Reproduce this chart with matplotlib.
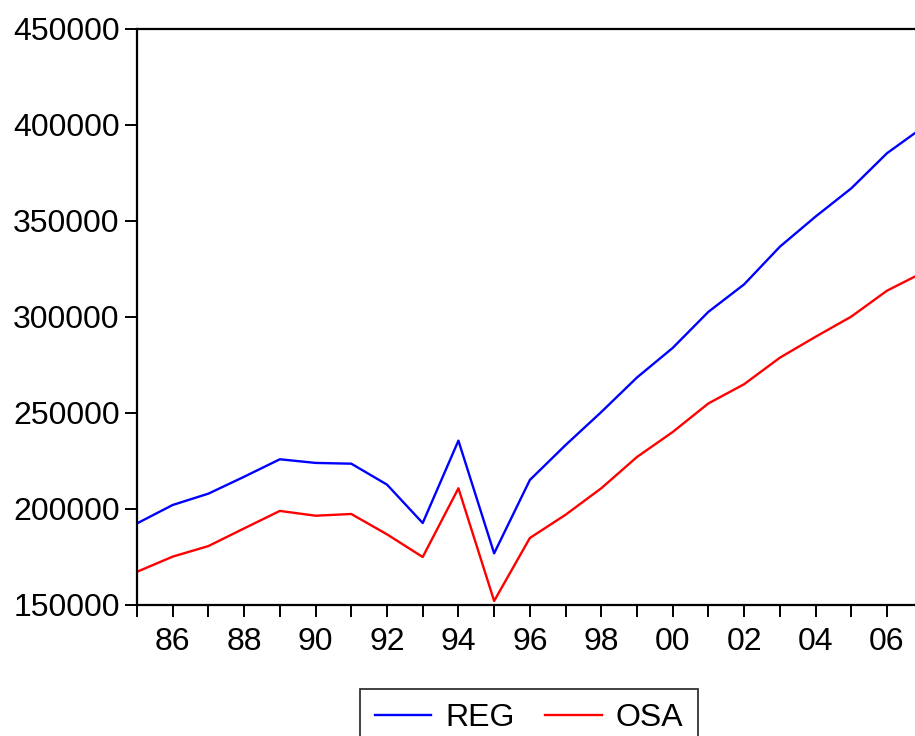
import matplotlib
matplotlib.use("Agg")
import matplotlib.pyplot as plt
from matplotlib.ticker import FixedLocator, FuncFormatter

years = list(range(1985, 2008))
reg = [192500, 202100, 208000, 216800, 225900, 224000, 223600, 212700, 192700,
       235600, 176900, 215100, 233300, 250500, 268500, 283900, 302700, 317000,
       336600, 352300, 367000, 385300, 398700]
osa = [167300, 175200, 180700, 189900, 199000, 196500, 197400, 186800, 175000,
       210800, 152100, 184900, 197000, 210800, 227100, 240100, 255000, 265000,
       278800, 289700, 300200, 313700, 323100]
series_names = ["REG", "OSA"]
yticks = [150000, 200000, 250000, 300000, 350000, 400000, 450000]

plt.rcParams['font.family'] = ['Liberation Sans', 'DejaVu Sans']

W, H = 915, 736
fig = plt.figure(figsize=(W / 100, H / 100), dpi=100)
left, right, top, bottom = 137 / W, 922.7 / W, 1 - 29 / H, 1 - 605 / H
ax = fig.add_axes([left, bottom, right - left, top - bottom])

ax.plot(years, reg, color="#0000ff", lw=1.7, label=series_names[0])
ax.plot(years, osa, color="#ff0000", lw=1.7, label=series_names[1])

ax.set_xlim(1985, 2007)
ax.set_ylim(150000, 450000)
ax.yaxis.set_major_locator(FixedLocator(yticks))
ax.yaxis.set_major_formatter(FuncFormatter(lambda v, p: f"{int(v)}"))
ax.xaxis.set_major_locator(FixedLocator(years))
ax.xaxis.set_major_formatter(FuncFormatter(lambda v, p: f"{int(round(v)) % 100:02d}" if int(round(v)) % 2 == 0 else ""))

ax.tick_params(axis="both", direction="out", length=8.5, width=1.4, labelsize=23, colors="black")
ax.tick_params(axis="x", pad=7)
ax.tick_params(axis="y", pad=4)
for s in ["left", "top", "bottom"]:
    ax.spines[s].set_linewidth(1.6)
ax.spines["right"].set_visible(False)

leg = fig.legend(loc="upper center", bbox_to_anchor=(529 / W, 1 - 689 / H), ncol=2,
                 fontsize=23, frameon=True, fancybox=False, edgecolor="black",
                 handlelength=1.78, handletextpad=0.44, columnspacing=0.94, borderpad=0.45,
                 borderaxespad=0)
leg.get_frame().set_linewidth(1.3)
for l in leg.get_lines():
    l.set_linewidth(1.7)

fig.savefig("out.png", dpi=100)
